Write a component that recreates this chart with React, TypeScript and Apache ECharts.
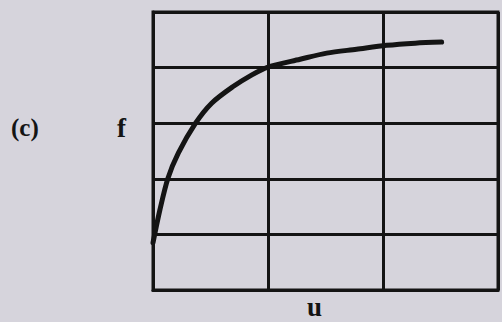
import React, { useEffect, useRef } from "react";
import * as echarts from "echarts";

const uValues: number[] = [0, 0.06, 0.13, 0.22, 0.37, 0.51, 0.69, 0.86, 1.0, 1.28, 1.51, 1.77, 2.03, 2.28, 2.51];
const fValues: number[] = [0.85, 1.44, 2.01, 2.46, 3.0, 3.36, 3.65, 3.87, 4.01, 4.15, 4.26, 4.33, 4.4, 4.44, 4.46];
const xTicks: number[] = [0, 1, 2, 3];
const yTicks: number[] = [0, 1, 2, 3, 4, 5];
const labelPart = "(c)";
const labelY = "f";
const labelX = "u";

export default function App() {
  const ref = useRef<HTMLDivElement>(null);
  useEffect(() => {
    if (!ref.current) return;
    const chart = echarts.init(ref.current, null, { renderer: "svg" });
    const ink = "#141414";
    const font = "'Liberation Serif', 'DejaVu Serif', serif";
    chart.setOption({
      animation: false,
      backgroundColor: "#d6d4dc",
      grid: {
        left: 153,
        top: 12,
        right: 4,
        bottom: 32,
        show: true,
        borderColor: ink,
        borderWidth: 3,
        backgroundColor: "transparent",
      },
      xAxis: {
        type: "value",
        min: xTicks[0],
        max: xTicks[xTicks.length - 1],
        interval: 1,
        axisLine: { show: true, lineStyle: { color: ink, width: 3 } },
        axisTick: { show: false },
        axisLabel: { show: false },
        splitLine: { show: true, lineStyle: { color: ink, width: 3 } },
      },
      yAxis: {
        type: "value",
        min: yTicks[0],
        max: yTicks[yTicks.length - 1],
        interval: 1,
        axisLine: { show: true, lineStyle: { color: ink, width: 3 } },
        axisTick: { show: false },
        axisLabel: { show: false },
        splitLine: { show: true, lineStyle: { color: ink, width: 3 } },
      },
      series: [
        {
          type: "line",
          data: uValues.map((u, i) => [u, fValues[i]]),
          smooth: 0.3,
          showSymbol: false,
          lineStyle: { color: ink, width: 5, cap: "round", join: "round" },
        },
      ],
      graphic: [
        {
          type: "text",
          left: 11,
          top: 115,
          style: { text: labelPart, font: `bold 25px ${font}`, fill: ink },
        },
        {
          type: "text",
          left: 117,
          top: 114,
          style: { text: labelY, font: `bold 27px ${font}`, fill: ink },
        },
        {
          type: "text",
          left: 307,
          top: 293,
          style: { text: labelX, font: `bold 27px ${font}`, fill: ink },
        },
      ],
    });
    return () => chart.dispose();
  }, []);
  return (
    <div
      ref={ref}
      style={{ position: "fixed", left: 0, top: 0, width: 502, height: 322 }}
    />
  );
}
